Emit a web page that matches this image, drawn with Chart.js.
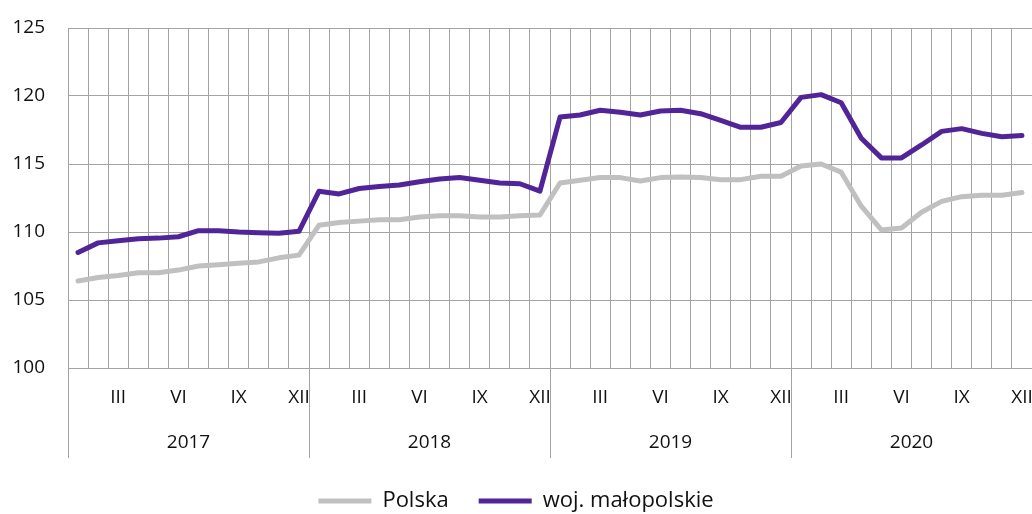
<!DOCTYPE html>
<html>
<head>
<meta charset="utf-8">
<script src="https://cdn.jsdelivr.net/npm/chart.js@4/dist/chart.umd.min.js"></script>
<style>
  html, body { margin: 0; padding: 0; background: #fff; overflow: hidden; }
  #wrap { width: 1040px; height: 514px; position: relative; }
</style>
</head>
<body>
<div id="wrap"><canvas id="chart"></canvas></div>
<script>
// miesiące (cyfry rzymskie) i lata
const roman = ["I","II","III","IV","V","VI","VII","VIII","IX","X","XI","XII"];
const years = ["2017", "2018", "2019", "2020"];
const months = years.flatMap(() => roman);

const polska = [
  106.4, 106.65, 106.8, 107.0, 107.0, 107.2, 107.5, 107.6, 107.7, 107.8, 108.1, 108.3,
  110.5, 110.7, 110.8, 110.9, 110.9, 111.1, 111.2, 111.2, 111.1, 111.1, 111.2, 111.25,
  113.6, 113.8, 114.0, 114.0, 113.75, 114.0, 114.05, 114.0, 113.85, 113.85, 114.1, 114.1,
  114.85, 115.0, 114.4, 111.9, 110.15, 110.3, 111.45, 112.25, 112.6, 112.7, 112.7, 112.9
];
const malopolskie = [
  108.5, 109.2, 109.35, 109.5, 109.55, 109.65, 110.1, 110.1, 110.0, 109.95, 109.9, 110.05,
  113.0, 112.8, 113.2, 113.35, 113.45, 113.7, 113.9, 114.0, 113.8, 113.6, 113.55, 113.0,
  118.45, 118.6, 118.95, 118.8, 118.6, 118.9, 118.95, 118.7, 118.2, 117.7, 117.7, 118.05,
  119.9, 120.1, 119.5, 116.9, 115.45, 115.45, 116.4, 117.4, 117.6, 117.25, 117.0, 117.1
];
const yTicks = [100, 105, 110, 115, 120, 125];

const GRID = "#a3a3a3";
const FONT = "'Open Sans', sans-serif";

new Chart(document.getElementById("chart"), {
  type: "line",
  data: {
    labels: months,
    datasets: [
      {
        label: "Polska",
        data: polska,
        borderColor: "#c0c0c0",
        backgroundColor: "#c0c0c0",
        borderWidth: 5,
        borderCapStyle: "round",
        borderJoinStyle: "round",
        pointRadius: 0,
        tension: 0
      },
      {
        label: "woj. małopolskie",
        data: malopolskie,
        borderColor: "#512597",
        backgroundColor: "#512597",
        borderWidth: 5,
        borderCapStyle: "round",
        borderJoinStyle: "round",
        pointRadius: 0,
        tension: 0
      }
    ]
  },
  options: {
    responsive: true,
    maintainAspectRatio: false,
    animation: false,
    layout: { padding: { top: 28, right: 8, left: 0, bottom: -8 } },
    plugins: {
      tooltip: { enabled: false },
      legend: {
        position: "bottom",
        labels: {
          usePointStyle: true,
          pointStyle: "line",
          pointStyleWidth: 53,
          boxWidth: 53,
          padding: 30,
          color: "#111",
          font: { family: FONT, size: 22 }
        }
      }
    },
    scales: {
      x: {
        offset: true,
        grid: {
          offset: true,
          color: GRID,
          lineWidth: 1,
          tickLength: 90,
          tickColor: ctx => (ctx.index % 12 === 0 ? GRID : "rgba(0,0,0,0)")
        },
        border: { color: GRID },
        ticks: {
          autoSkip: false,
          maxRotation: 0,
          padding: -72,
          color: "#111",
          font: { family: FONT, size: 19 },
          callback: (v, i) => (i % 3 === 2 ? months[i] : "")
        },
        afterFit: s => { s.height = 40; }
      },
      x2: {
        type: "category",
        labels: years,
        position: "bottom",
        offset: true,
        grid: { display: false, drawTicks: false },
        border: { display: false },
        ticks: {
          padding: 23,
          color: "#111",
          font: { family: FONT, size: 19 }
        },
        afterFit: s => { s.height = 52; }
      },
      y: {
        min: 100,
        max: 125,
        afterBuildTicks: s => { s.ticks = yTicks.map(v => ({ value: v })); },
        grid: { color: GRID, lineWidth: 1, drawTicks: false },
        border: { color: GRID },
        ticks: {
          padding: 23,
          color: "#111",
          font: { family: FONT, size: 19 }
        },
        afterFit: s => { s.width = 68; s.paddingTop = 0; s.paddingBottom = 0; }
      }
    }
  }
});
</script>
</body>
</html>
